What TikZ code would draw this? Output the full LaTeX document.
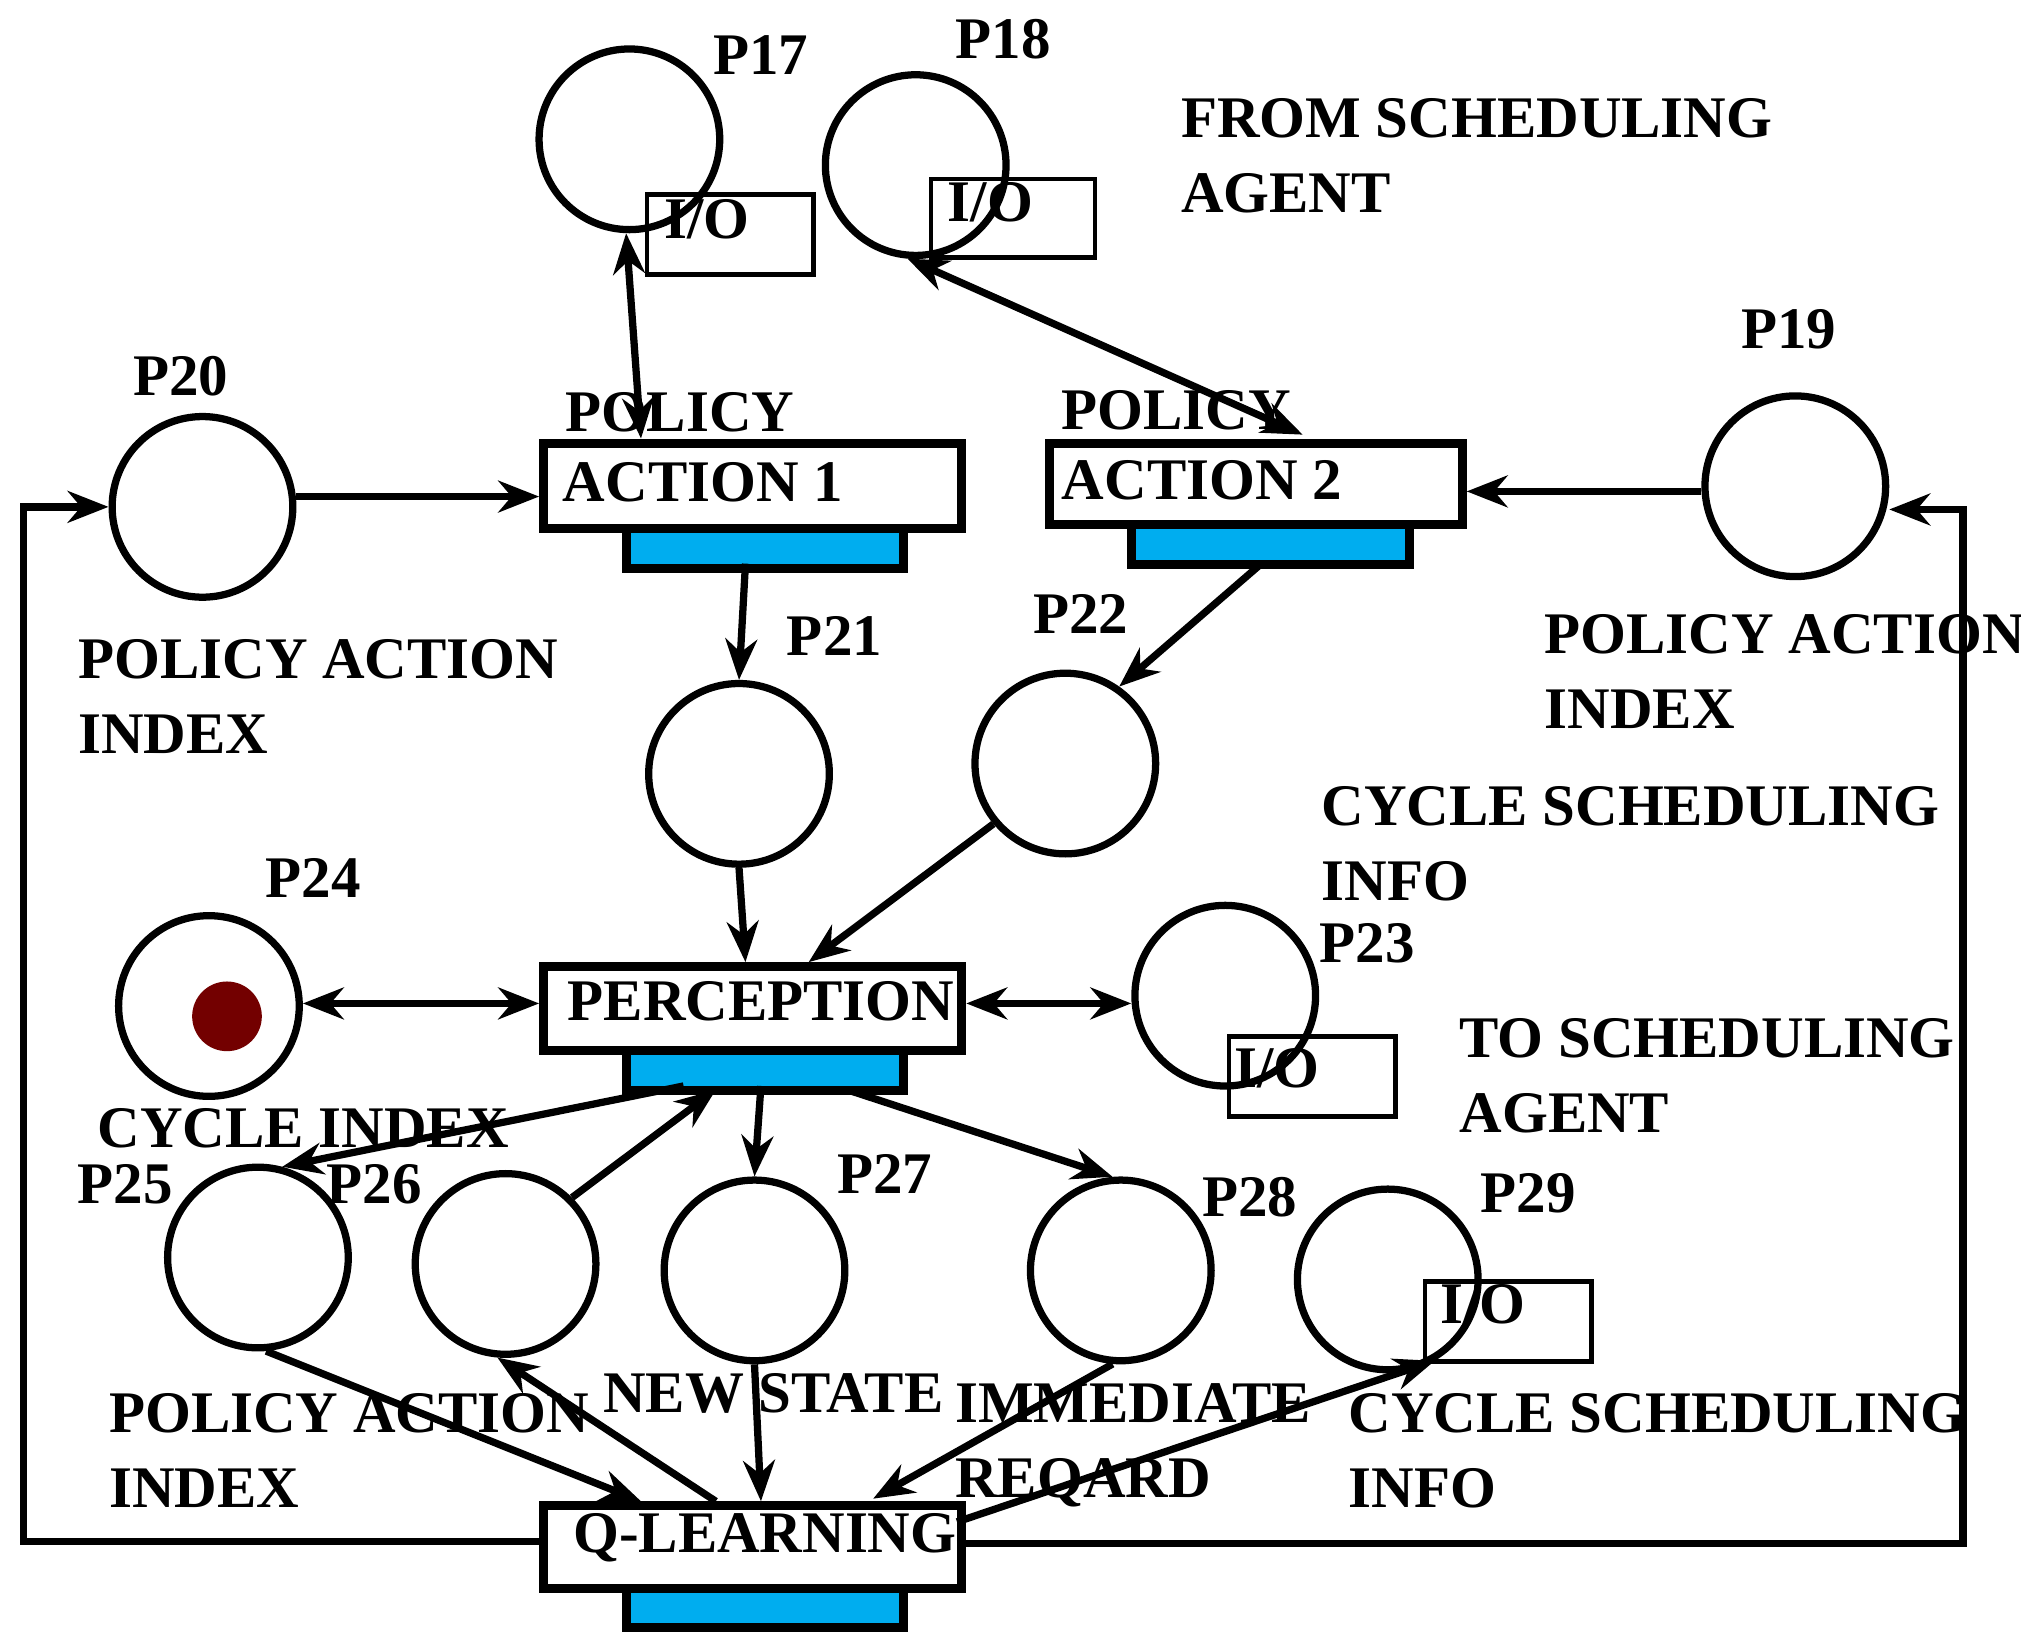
\documentclass[tikz,border=0pt]{standalone}
\usepackage{fontspec}
\setmainfont{Liberation Serif}
\usetikzlibrary{arrows.meta}
\begin{document}
\begin{tikzpicture}[x=0.01cm,y=-0.01cm,
 pl/.style={circle,draw,line width=1.6pt,minimum size=1.4cm,inner sep=0},
 tr/.style={draw,line width=2pt,anchor=north west,inner sep=0},
 bar/.style={draw,line width=2pt,fill=cyan!80!blue!60,fill=cyan,anchor=north west,inner sep=0},
 io/.style={draw,line width=1pt,anchor=north west,inner sep=0},
 lb/.style={font=\bfseries\fontsize{13}{13}\selectfont,inner sep=0},
 tx/.style={font=\bfseries\fontsize{13}{16.5}\selectfont,inner sep=0,anchor=north west,align=left},
 ar/.style={line width=1.6pt,-{Stealth[length=9pt,width=7pt]}},
 dar/.style={line width=1.6pt,{Stealth[length=9pt,width=7pt]}-{Stealth[length=9pt,width=7pt]}},
 ln/.style={line width=1.6pt}]
\useasboundingbox (0,0) rectangle (1567,1272);
% places
\node[pl] (p17) at (488,108) {};
\node[pl] (p18) at (710,128) {};
\node[pl] (p20) at (157,393) {};
\node[pl] (p19) at (1392,377) {};
\node[pl] (p21) at (573,600) {};
\node[pl] (p22) at (826,592) {};
\node[pl] (p24) at (162,780) {};
\node[circle,fill=red!45!black,minimum size=0.54cm,inner sep=0] (tok) at (176,788) {};
\node[pl] (p23) at (950,772) {};
\node[pl] (p25) at (200,975) {};
\node[pl] (p26) at (392,980) {};
\node[pl] (p27) at (585,985) {};
\node[pl] (p28) at (869,985) {};
\node[pl] (p29) at (1076,992) {};
% I/O boxes
\node[io,minimum width=1.29cm,minimum height=0.62cm] (io17) at (500,149) {};
\node[io,minimum width=1.27cm,minimum height=0.61cm] (io18) at (720,137) {};
\node[io,minimum width=1.29cm,minimum height=0.62cm] (io23) at (951,802) {};
\node[io,minimum width=1.29cm,minimum height=0.62cm] (io29) at (1103,992) {};
% transitions
\node[tr,minimum width=3.24cm,minimum height=0.66cm] (pa1) at (418,340) {};
\node[bar,minimum width=2.15cm,minimum height=0.31cm] (b1) at (482,406) {};
\node[tr,minimum width=3.2cm,minimum height=0.63cm] (pa2) at (810,340) {};
\node[bar,minimum width=2.15cm,minimum height=0.31cm] (b2) at (874,403) {};
\node[tr,minimum width=3.24cm,minimum height=0.65cm] (per) at (418,746) {};
\node[bar,minimum width=2.15cm,minimum height=0.31cm] (b3) at (482,811) {};
\node[tr,minimum width=3.24cm,minimum height=0.64cm] (ql) at (418,1164) {};
\node[bar,minimum width=2.15cm,minimum height=0.30cm] (b4) at (482,1228) {};
% texts
\node[lb] (t17) at (590,43) {P17};
\node[lb] (t18) at (778,30) {P18};
\node[lb] (t20) at (140,292) {P20};
\node[lb] (t19) at (1387,255) {P19};
\node[lb] (t21) at (647,493) {P21};
\node[lb] (t22) at (838,476) {P22};
\node[lb] (t24) at (243,681) {P24};
\node[lb] (t23) at (1060,731) {P23};
\node[lb] (t25) at (97,918) {P25};
\node[lb] (t26) at (290,918) {P26};
\node[lb] (t27) at (686,910) {P27};
\node[lb] (t28) at (969,928) {P28};
\node[lb] (t29) at (1185,925) {P29};
\node[lb] (i17) at (548,170) {I/O};
\node[lb] (i18) at (768,157) {I/O};
\node[lb] (i23) at (990,828) {I/O};
\node[lb] (i29) at (1150,1011) {I/O};
\node[lb] (pol1) at (527,320) {POLICY};
\node[lb] (act1) at (545,374) {ACTION 1};
\node[lb] (pol2) at (912,318) {POLICY};
\node[lb] (act2) at (932,372) {ACTION 2};
\node[lb] (tper) at (590,776) {PERCEPTION};
\node[lb] (tql) at (593,1192) {Q-LEARNING};
\node[tx] (x1) at (915,76) {FROM SCHEDULING\\AGENT};
\node[tx] (x2) at (60,495) {POLICY ACTION\\INDEX};
\node[tx] (x3) at (1197,476) {POLICY ACTION\\INDEX};
\node[tx] (x4) at (1024,609) {CYCLE SCHEDULING\\INFO};
\node[tx] (x5) at (1131,789) {TO SCHEDULING\\AGENT};
\node[tx] (x6) at (75,859) {CYCLE INDEX};
\node[tx] (x7) at (84,1080) {POLICY ACTION\\INDEX};
\node[tx] (x8) at (467,1064) {NEW STATE};
\node[tx] (x9) at (740,1072) {IMMEDIATE\\REQARD};
\node[tx] (x10) at (1045,1080) {CYCLE SCHEDULING\\INFO};
% endpoints
\coordinate (a1) at (497,340);
\coordinate (a2) at (1010,337);
\coordinate (a3) at (578,437);
\coordinate (a4) at (978,437);
\coordinate (a5) at (578,746);
\coordinate (a6) at (627,746);
\coordinate (c1) at (530,842);
\coordinate (c2) at (555,845);
\coordinate (c3) at (590,842);
\coordinate (c4) at (657,845);
\coordinate (q1) at (497,1164);
\coordinate (q2) at (555,1164);
\coordinate (q3) at (590,1164);
\coordinate (q4) at (677,1162);
\coordinate (q5) at (742,1180);
\coordinate (q6) at (742,1197);
\coordinate (q7) at (418,1195);
\coordinate (L) at (18,1195);
\coordinate (R) at (1522,1197);
% connectors
\draw[dar] (p17.268) -- (a1);
\draw[dar] (p18.265) -- (a2);
\draw[ar] (p20.east|-385,385) -- (pa1.west|-385,385);
\draw[ar] (p19.west|-381,381) -- (pa2.east|-381,381);
\draw[ar] (a3) -- (p21.north);
\draw[ar] (a4) -- (p22.55);
\draw[ar] (p21.south) -- (a5);
\draw[ar] (p22.220) -- (a6);
\draw[dar] (p24.east|-778,778) -- (per.west|-778,778);
\draw[dar] (per.east|-778,778) -- (p23.west|-778,778);
\draw[ar] (c1) -- (p25.75);
\draw[ar] (p26.45) -- (c2);
\draw[ar] (c3) -- (p27.north);
\draw[ar] (c4) -- (p28.95);
\draw[ar] (p25.275) -- (q1);
\draw[ar] (q2) -- (p26.265);
\draw[ar] (p27.south) -- (q3);
\draw[ar] (p28.265) -- (q4);
\draw[ar] (q5) -- (p29.300);
\draw[ar] (q7) -- (L) -- (18,393) -- (p20.west);
\draw[ar] (q6) -- (R) -- (1522,395) -- (p19.east|-395,395);
\end{tikzpicture}
\end{document}
